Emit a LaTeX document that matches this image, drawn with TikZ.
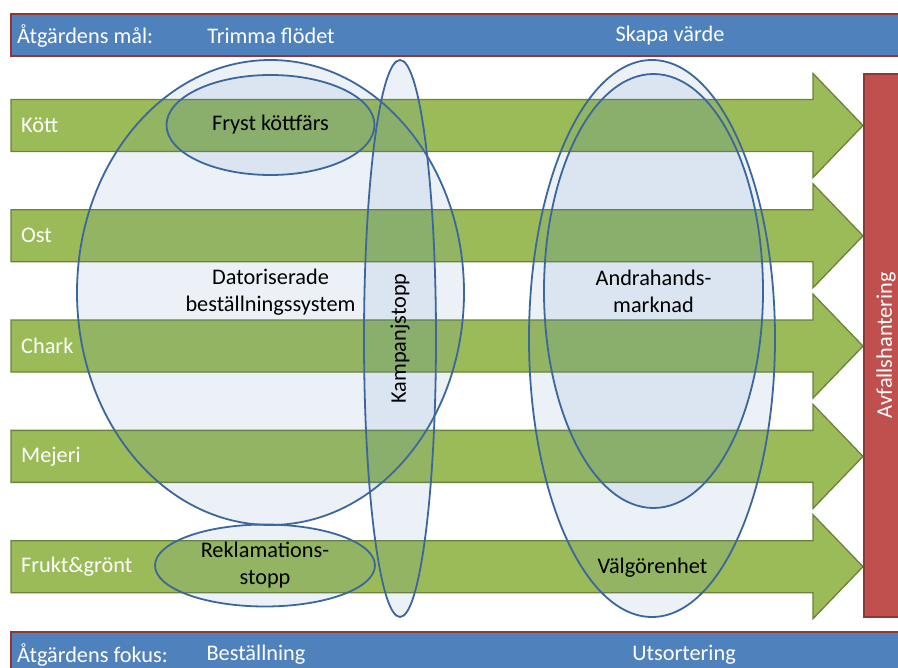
\documentclass[tikz,border=0pt]{standalone}
\usepackage{fontspec}
\setmainfont{Carlito}
\usetikzlibrary{positioning, shapes.geometric}
\definecolor{cblue}{HTML}{4F81BD}
\definecolor{cline}{HTML}{3C679B}
\definecolor{cgreen}{HTML}{9BBB59}
\definecolor{cgreendark}{HTML}{6A8239}
\definecolor{cred}{HTML}{C0504D}
\definecolor{creddark}{HTML}{8C3836}
\tikzset{
  every picture/.style={font=\fontsize{22.3}{27}\selectfont, x=1pt, y=-1pt},
  banner/.style={draw=creddark, fill=cblue, line width=1.4pt},
  bannertext/.style={text=white, inner sep=0pt},
  flow/.style={draw=cgreendark, fill=cgreen, line width=1.3pt},
  rowlabel/.style={text=white, anchor=west, inner sep=0pt},
  oval/.style={ellipse, draw=cline, fill=cblue, fill opacity=0.11, text opacity=1,
               line width=1.8pt, inner sep=1pt, align=center},
  waste/.style={draw=creddark, fill=cred, line width=1.3pt},
}

\begin{document}
\begin{tikzpicture}
  \clip (0,0) rectangle (898,668);
  % banners
  \draw[banner] (11,14) rectangle (910,56);
  \draw[banner] (11,632) rectangle (910,680);
  \node[bannertext, anchor=west] (goal) at (17,36) {Åtgärdens mål:};
  \node[bannertext] (trim) at (271,36) {Trimma flödet};
  \node[bannertext] (value) at (670,36) {Skapa värde};
  \node[bannertext, anchor=west] (focus) at (17,655) {Åtgärdens fokus:};
  \node[bannertext] (order) at (256,655) {Beställning};
  \node[bannertext] (sort) at (684,655) {Utsortering};

  % product flows
  \foreach \lab [count=\i] in {Kött, Ost, Chark, Mejeri, {Frukt\&grönt}} {
    \pgfmathsetmacro{\c}{125.5+110.3*(\i-1)}
    \draw[flow] (11,\c-26) -- (813,\c-26) -- (813,\c-52) -- (863,\c)
      -- (813,\c+52) -- (813,\c+26) -- (11,\c+26) -- cycle;
    \node[rowlabel] (row\i) at (21,\c) {\lab};
  }

  % waste handling
  \draw[waste] (864,74) rectangle (910,617);
  \node[text=white, rotate=90, inner sep=0pt] (avfall) at (886,345) {Avfallshantering};

  % measures
  \node[oval, minimum width=387pt, minimum height=465pt] (dator) at (270.5,292.5)
    {Datoriserade\\beställningssystem};
  \node[oval, minimum width=208pt, minimum height=100pt] (fryst) at (270.5,125) {Fryst köttfärs};
  \node[oval, minimum width=220pt, minimum height=82pt] (reklam) at (265,565.5)
    {Reklamations-\\stopp};
  \node[oval, rotate=90, minimum width=557pt, minimum height=72pt] (kampanj) at (400,338.5)
    {Kampanjstopp};
  \node[oval, minimum width=246pt, minimum height=557pt] (second) at (652,338.5) {};
  \node[oval, minimum width=219pt, minimum height=434pt] (andra) at (653.5,291)
    {Andrahands-\\marknad};
  \node[inner sep=0pt] (valg) at (652.5,568) {Välgörenhet};
\end{tikzpicture}
\end{document}
